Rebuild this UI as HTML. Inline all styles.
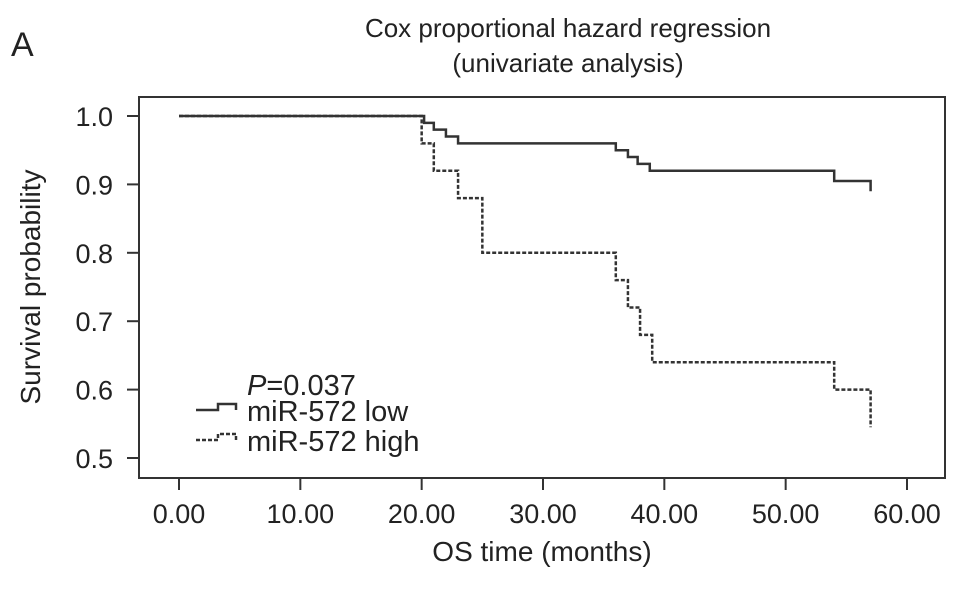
<!DOCTYPE html>
<html><head><meta charset="utf-8"><style>
body{margin:0;background:#fff}
svg text{font-family:"Liberation Sans",sans-serif;fill:#222}
</style></head><body>
<svg width="969" height="586" viewBox="0 0 969 586">
<text x="11" y="56" font-size="34">A</text>
<text x="568" y="37" font-size="26" text-anchor="middle">Cox proportional hazard regression</text>
<text x="568" y="72" font-size="26" text-anchor="middle">(univariate analysis)</text>
<rect x="139" y="97" width="806" height="381" fill="none" stroke="#333" stroke-width="2"/>
<g id="axes"></g>
<g id="series"></g>
<text x="40" y="287" font-size="28" text-anchor="middle" transform="rotate(-90 40 287)">Survival probability</text>
<text x="542" y="561" font-size="28" text-anchor="middle">OS time (months)</text>
<text x="247" y="395" font-size="29"><tspan font-style="italic">P</tspan>=0.037</text>
<path d="M196 410 H218 V404 H236 V410" fill="none" stroke="#333" stroke-width="2.5"/>
<text x="247" y="421" font-size="29">miR-572 low</text>
<path d="M196 440 H218 V434 H236 V440" fill="none" stroke="#333" stroke-width="2.5" stroke-dasharray="4 2"/>
<text x="247" y="451" font-size="29">miR-572 high</text>
</svg>
<script>
const xTicks=[0,10,20,30,40,50,60];
const xTickLabels=["0.00","10.00","20.00","30.00","40.00","50.00","60.00"];
const yTicks=[0.5,0.6,0.7,0.8,0.9,1.0];
const yTickLabels=["0.5","0.6","0.7","0.8","0.9","1.0"];
const lowTimes=[0,20.2,21,22,23,36,37,37.8,38.8,54,57];
const lowSurv=[1.0,0.99,0.98,0.97,0.96,0.95,0.94,0.93,0.92,0.905,0.89];
const highTimes=[0,20,21,23,25,36,37,38,39,54,57];
const highSurv=[1.0,0.96,0.92,0.88,0.80,0.76,0.72,0.68,0.64,0.60,0.545];
const NS="http://www.w3.org/2000/svg";
const sx=t=>179+t*(907-179)/60;
const sy=v=>458-(v-0.5)*(458-116)/0.5;
const axes=document.getElementById('axes');
function mk(tag,attrs,parent){const e=document.createElementNS(NS,tag);for(const k in attrs)e.setAttribute(k,attrs[k]);parent.appendChild(e);return e;}
xTicks.forEach((t,i)=>{
 const l=mk('line',{x1:sx(t),x2:sx(t),y1:478,y2:490,stroke:'#333','stroke-width':2},axes);
 
 
 const tx=mk('text',{x:sx(t),y:523,'font-size':27,'text-anchor':'middle'},axes);
 tx.textContent=xTickLabels[i];
 
 
});
yTicks.forEach((v,i)=>{
 const l=mk('line',{x1:127,x2:139,y1:sy(v),y2:sy(v),stroke:'#333','stroke-width':2},axes);
 
 
 const tx=mk('text',{x:113,y:sy(v)+10,'font-size':27,'text-anchor':'end'},axes);
 tx.textContent=yTickLabels[i];
 
 
});
function stepPath(ts,ss){let d='M'+sx(ts[0])+' '+sy(ss[0]);for(let i=1;i<ts.length;i++){d+=' H'+sx(ts[i])+' V'+sy(ss[i]);}return d;}
const g=document.getElementById('series');
const high=mk('path',{d:stepPath(highTimes,highSurv),fill:'none',stroke:'#333','stroke-width':2.5,'stroke-dasharray':'4 2'},g);


const low=mk('path',{d:stepPath(lowTimes,lowSurv),fill:'none',stroke:'#333','stroke-width':2.5},g);


</script>
</body></html>
